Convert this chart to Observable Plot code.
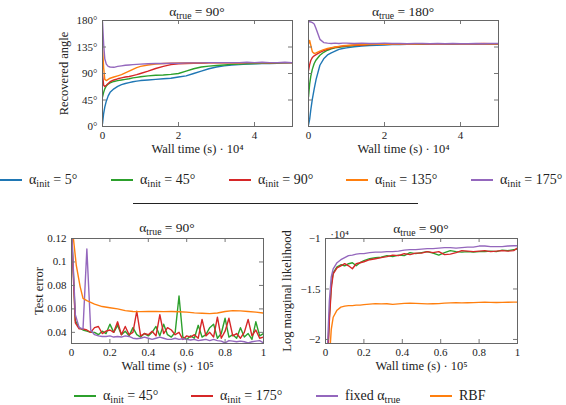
<!DOCTYPE html>
<html>
<head>
<meta charset="utf-8">
<script src="https://cdn.jsdelivr.net/npm/d3@7"></script>
<script src="https://cdn.jsdelivr.net/npm/@observablehq/plot@0.6"></script>
<style>
  body { margin: 0; background: #fff; }
  #fig { position: relative; width: 566px; height: 405px; overflow: hidden; font-family: "Liberation Serif", serif; color: #222; background: #fff; }
  #fig svg { position: absolute; left: 0; top: 0; }
  .ttl { position: absolute; font-size: 13.5px; line-height: 14px; white-space: nowrap; transform: translateX(-50%); }
  sub { font-size: 0.72em; vertical-align: -0.32em; line-height: 0; }
  .lg { position: absolute; font-size: 14px; line-height: 14px; white-space: nowrap; display: flex; align-items: center; }
  .lg i { display: inline-block; width: 22px; height: 1.6px; margin-right: 7px; }
  .rule { position: absolute; left: 133px; top: 202.5px; width: 285px; height: 1.5px; background: #222; }
</style>
</head>
<body>
<div id="fig"></div>
<script>
// ---- Recovered angle vs wall time (units of 1e4 s) ----
const tTop = [0, 0.03, 0.06, 0.1, 0.15, 0.2, 0.3, 0.4, 0.5, 0.6, 0.7, 0.8, 0.9, 1.0, 1.2, 1.4, 1.6, 1.8, 2.0, 2.2, 2.4, 2.6, 2.8, 3.0, 3.2, 3.4, 3.6, 3.8, 4.0, 4.2, 4.4, 4.6, 4.8, 5.0];

// alpha_true = 90°
const blue90   = [5, 22, 33, 43, 52, 58, 64, 68, 71, 73, 74.5, 76, 77, 78, 79, 80, 81, 82, 84, 86, 90, 94, 98, 101, 103, 104.5, 105, 106, 106.5, 107, 107, 107.5, 108, 108];
const green90  = [50, 58, 64, 69, 72, 74, 76.5, 78, 79, 80, 81, 82.5, 83.5, 84.5, 86, 87, 87.5, 88.5, 90, 94, 98, 101, 102.5, 103.5, 104.5, 105.5, 106, 106.5, 107, 107.5, 107.5, 108, 108, 108.5];
const red90    = [90, 70, 68, 70, 73, 76, 79, 81, 82.5, 84, 85, 86.5, 88, 90, 94, 98.5, 102, 105, 106.5, 107, 107.5, 107.5, 108, 108, 108, 108.5, 108, 108.5, 108.5, 108.5, 108, 108.5, 108.5, 108.5];
const orange90 = [135, 100, 80, 78, 80, 82, 84, 86, 88, 91, 94, 97, 100, 102, 104.5, 106, 107, 107.5, 108, 108, 108.5, 108, 108.5, 108.5, 108.5, 108.5, 108, 108.5, 108.5, 108.5, 108.5, 108.5, 108.5, 108.5];
const purple90 = [178, 140, 115, 106, 102, 101, 100.5, 102, 103, 104, 104.5, 105, 105.5, 106, 106.5, 107, 107, 107.5, 107.5, 108, 108, 108, 108.5, 108.5, 108.5, 108.5, 108.5, 109, 108.5, 109, 108.5, 108.5, 109, 108.5];

// alpha_true = 180°
const blue180   = [3, 12, 28, 46, 64, 80, 104, 115, 121.5, 125, 128, 131, 132.5, 133.5, 135.5, 136.5, 137.5, 138, 138.5, 139, 139, 139.5, 139.5, 140, 140, 140, 140.5, 140, 140.5, 140.5, 140, 140.5, 140.5, 140.5];
const green180  = [50, 72, 85, 97, 107, 113, 121, 126, 129.5, 132, 133.5, 134.5, 135.5, 136, 137.5, 138.5, 139, 139.5, 139.5, 140, 140, 140, 140.5, 140, 140.5, 140.5, 140.5, 140, 140.5, 140.5, 140.5, 140.5, 140.5, 140.5];
const red180    = [95, 105, 112, 117, 120, 122, 126, 129, 131, 133, 134.5, 135.5, 136.5, 137, 138, 138.5, 139, 139.5, 139.5, 140, 140, 140, 140.5, 140.5, 140, 140.5, 140.5, 140.5, 140.5, 140.5, 140.5, 141, 140.5, 140.5];
const orange180 = [140, 146, 138, 127, 124, 125, 128, 130.5, 132.5, 134, 135, 136, 137, 137.5, 138.5, 139, 139.5, 140, 139.5, 140, 140.5, 140, 140, 140.5, 140.5, 140, 140.5, 140.5, 140.5, 140.5, 140.5, 140.5, 140.5, 140.5];
const purple180 = [178, 178, 177.5, 176.5, 174, 166, 148, 142.5, 141.5, 141, 141.5, 141, 141.5, 141.5, 141, 141.5, 141, 141, 141.5, 141, 141, 140.5, 141, 141, 140.5, 141, 140.5, 141, 140.5, 140.5, 141, 140.5, 141, 141];

// ---- Test error vs wall time (units of 1e5 s) ----
const tErr = [0, 0.02, 0.04, 0.06, 0.08, 0.1, 0.12, 0.14, 0.16, 0.18, 0.2, 0.22, 0.24, 0.26, 0.28, 0.3, 0.32, 0.34, 0.36, 0.38, 0.4, 0.42, 0.44, 0.46, 0.48, 0.5, 0.52, 0.54, 0.56, 0.58, 0.6, 0.62, 0.64, 0.66, 0.68, 0.7, 0.72, 0.74, 0.76, 0.78, 0.8, 0.82, 0.84, 0.86, 0.88, 0.9, 0.92, 0.94, 0.96, 0.98, 1];
const greenErr  = [0.13, 0.05, 0.044, 0.042, 0.041, 0.040, 0.040, 0.038, 0.041, 0.039, 0.047, 0.040, 0.046, 0.038, 0.041, 0.037, 0.044, 0.038, 0.036, 0.039, 0.037, 0.040, 0.045, 0.037, 0.047, 0.038, 0.036, 0.040, 0.071, 0.036, 0.034, 0.037, 0.035, 0.046, 0.036, 0.038, 0.044, 0.047, 0.035, 0.039, 0.052, 0.036, 0.038, 0.035, 0.044, 0.036, 0.039, 0.034, 0.049, 0.037, 0.039];
const redErr    = [0.125, 0.048, 0.043, 0.043, 0.042, 0.040, 0.044, 0.045, 0.039, 0.041, 0.042, 0.040, 0.049, 0.038, 0.045, 0.038, 0.040, 0.058, 0.037, 0.039, 0.038, 0.041, 0.037, 0.055, 0.039, 0.044, 0.042, 0.038, 0.040, 0.034, 0.037, 0.036, 0.038, 0.035, 0.051, 0.037, 0.040, 0.036, 0.053, 0.035, 0.041, 0.052, 0.037, 0.039, 0.035, 0.040, 0.051, 0.037, 0.042, 0.035, 0.036];
const purpleErr = [0.13, 0.055, 0.044, 0.043, 0.111, 0.042, 0.038, 0.037, 0.0365, 0.0365, 0.037, 0.036, 0.0365, 0.036, 0.037, 0.0365, 0.035, 0.0345, 0.035, 0.036, 0.035, 0.034, 0.035, 0.036, 0.035, 0.034, 0.034, 0.035, 0.034, 0.0345, 0.034, 0.0335, 0.034, 0.033, 0.0335, 0.034, 0.033, 0.034, 0.033, 0.0325, 0.031, 0.033, 0.0325, 0.032, 0.0325, 0.032, 0.031, 0.032, 0.0325, 0.033, 0.031];
const tRbf   = [0, 0.01, 0.025, 0.045, 0.06, 0.08, 0.1, 0.12, 0.14, 0.16, 0.2, 0.24, 0.28, 0.32, 0.36, 0.4, 0.44, 0.48, 0.52, 0.56, 0.6, 0.64, 0.68, 0.72, 0.76, 0.8, 0.84, 0.88, 0.92, 0.96, 1];
const rbfErr = [0.15, 0.12, 0.097, 0.079, 0.069, 0.067, 0.0655, 0.064, 0.063, 0.062, 0.061, 0.060, 0.0585, 0.0578, 0.0577, 0.0578, 0.0578, 0.0577, 0.0578, 0.0576, 0.0572, 0.0566, 0.0563, 0.056, 0.0565, 0.0578, 0.0585, 0.0583, 0.0578, 0.0572, 0.0565];

// ---- Log marginal likelihood (units of 1e4) vs wall time (units of 1e5 s) ----
const tLik = [0, 0.01, 0.02, 0.03, 0.04, 0.06, 0.08, 0.10, 0.12, 0.14, 0.16, 0.18, 0.20, 0.23, 0.26, 0.29, 0.32, 0.35, 0.38, 0.41, 0.44, 0.47, 0.50, 0.53, 0.56, 0.59, 0.62, 0.65, 0.68, 0.71, 0.74, 0.77, 0.80, 0.83, 0.86, 0.89, 0.92, 0.95, 0.98, 1.0];
const purpleLik = [-2.3, -2.1, -1.62, -1.38, -1.3, -1.24, -1.21, -1.19, -1.17, -1.165, -1.155, -1.15, -1.15, -1.14, -1.135, -1.135, -1.13, -1.13, -1.125, -1.115, -1.11, -1.11, -1.105, -1.1, -1.1, -1.095, -1.09, -1.09, -1.095, -1.09, -1.085, -1.085, -1.075, -1.075, -1.08, -1.08, -1.08, -1.075, -1.072, -1.072];
const greenLik  = [-2.3, -2.2, -1.78, -1.46, -1.34, -1.28, -1.26, -1.27, -1.25, -1.24, -1.27, -1.24, -1.22, -1.2, -1.19, -1.185, -1.17, -1.18, -1.165, -1.17, -1.14, -1.15, -1.14, -1.13, -1.145, -1.165, -1.14, -1.12, -1.13, -1.135, -1.13, -1.135, -1.13, -1.13, -1.125, -1.13, -1.115, -1.12, -1.11, -1.105];
const redLik    = [-2.3, -2.25, -1.82, -1.5, -1.35, -1.29, -1.27, -1.25, -1.27, -1.30, -1.25, -1.24, -1.23, -1.21, -1.2, -1.19, -1.18, -1.165, -1.17, -1.15, -1.16, -1.145, -1.145, -1.13, -1.14, -1.13, -1.16, -1.155, -1.14, -1.12, -1.125, -1.13, -1.125, -1.12, -1.13, -1.125, -1.12, -1.125, -1.12, -1.095];
const rbfLik    = [-2.5, -2.4, -2.2, -1.9, -1.78, -1.71, -1.68, -1.67, -1.665, -1.665, -1.66, -1.66, -1.655, -1.65, -1.645, -1.648, -1.646, -1.652, -1.648, -1.643, -1.64, -1.643, -1.645, -1.648, -1.647, -1.645, -1.64, -1.638, -1.637, -1.638, -1.636, -1.635, -1.633, -1.632, -1.633, -1.634, -1.633, -1.632, -1.63, -1.63];

// ---- Tick values ----
const angleTicks = [0, 45, 90, 135, 180];
const topTimeTicks = [0, 2, 4];
const unitTicks = [0, 0.2, 0.4, 0.6, 0.8, 1];
const errTicks = [0.04, 0.06, 0.08, 0.1, 0.12];
const likTicks = [-2, -1.5, -1];

const C = {blue: "#1f77b4", green: "#2ca02c", red: "#d62728", orange: "#ff7f0e", purple: "#9467bd"};

const W = 566, H = 405, TICK = 4;
const fig = document.getElementById("fig");
const plain = d => (d < 0 ? "\u2212" : "") + Math.abs(d);
const deg = d => `${d}°`;

function panel({box, xDomain, yDomain, xTicks, yTicks, yFormat, showYLabels = true, xLabel, yLabel, yLabelDx, extra = [], series}) {
  const [left, top, right, bottom] = box;
  const fw = right - left, fh = bottom - top;
  const lines = series.map(([xs, ys, color]) =>
    Plot.line(xs.map((x, i) => ({x, y: ys[i]})), {x: "x", y: "y", stroke: color, strokeWidth: 1.4, clip: true}));
  const marks = [
    ...lines,
    Plot.tickX(xTicks, {x: d => d, stroke: "#777", insetTop: fh - TICK}),
    Plot.tickX(xTicks, {x: d => d, stroke: "#777", insetBottom: fh - TICK}),
    Plot.tickY(yTicks, {y: d => d, stroke: "#777", insetRight: fw - TICK}),
    Plot.tickY(yTicks, {y: d => d, stroke: "#777", insetLeft: fw - TICK}),
    Plot.frame({stroke: "#666", strokeWidth: 1}),
    Plot.axisX({ticks: xTicks, tickSize: 0, tickPadding: 5, tickFormat: plain, label: null, fontSize: 11}),
    Plot.text([xLabel], {text: d => d, frameAnchor: "bottom", textAnchor: "middle", dy: 26, fontSize: 12.5})
  ];
  if (showYLabels) {
    marks.push(Plot.axisY({ticks: yTicks, tickSize: 0, tickPadding: 5, tickFormat: yFormat, label: null, fontSize: 11}));
  }
  if (yLabel) {
    marks.push(Plot.text([yLabel], {text: d => d, frameAnchor: "left", textAnchor: "middle", dx: yLabelDx, rotate: -90, fontSize: 12.5}));
  }
  marks.push(...extra);
  const svg = Plot.plot({
    width: W, height: H,
    marginLeft: left, marginTop: top, marginRight: W - right, marginBottom: H - bottom,
    style: {background: "transparent", fontFamily: "Liberation Serif", fontSize: "11px", color: "#222", overflow: "visible"},
    x: {domain: xDomain, label: null},
    y: {domain: yDomain, label: null, axis: showYLabels ? undefined : null},
    marks
  });
  fig.appendChild(svg);
}

panel({
  box: [102, 20, 292, 126], xDomain: [0, 5], yDomain: [0, 180],
  xTicks: topTimeTicks, yTicks: angleTicks, yFormat: deg,
  xLabel: "Wall time (s) · 10⁴", yLabel: "Recovered angle", yLabelDx: -39,
  series: [[tTop, blue90, C.blue], [tTop, green90, C.green], [tTop, red90, C.red], [tTop, orange90, C.orange], [tTop, purple90, C.purple]]
});

panel({
  box: [308, 20, 498, 126], xDomain: [0, 5], yDomain: [0, 180],
  xTicks: topTimeTicks, yTicks: angleTicks, yFormat: deg, showYLabels: false,
  xLabel: "Wall time (s) · 10⁴",
  series: [[tTop, blue180, C.blue], [tTop, green180, C.green], [tTop, red180, C.red], [tTop, orange180, C.orange], [tTop, purple180, C.purple]]
});

panel({
  box: [71, 238, 263, 343], xDomain: [0, 1], yDomain: [0.0305, 0.12],
  xTicks: unitTicks, yTicks: errTicks, yFormat: plain,
  xLabel: "Wall time (s) · 10⁵", yLabel: "Test error", yLabelDx: -33,
  series: [[tErr, greenErr, C.green], [tErr, redErr, C.red], [tErr, purpleErr, C.purple], [tRbf, rbfErr, C.orange]]
});

panel({
  box: [325, 238, 517, 343], xDomain: [0, 1], yDomain: [-2.04, -1],
  xTicks: unitTicks, yTicks: likTicks, yFormat: plain,
  xLabel: "Wall time (s) · 10⁵", yLabel: "Log marginal likelihood", yLabelDx: -39,
  extra: [Plot.text(["·10⁴"], {text: d => d, frameAnchor: "top-left", textAnchor: "middle", dx: 14, dy: -8, fontSize: 11})],
  series: [[tLik, greenLik, C.green], [tLik, redLik, C.red], [tLik, purpleLik, C.purple], [tLik, rbfLik, C.orange]]
});

// Panel titles
const titles = [
  [197, 5, "α<sub>true</sub> = 90°"],
  [403, 5, "α<sub>true</sub> = 180°"],
  [167, 221, "α<sub>true</sub> = 90°"],
  [421, 222, "α<sub>true</sub> = 90°"]
];
for (const [cx, top, html] of titles) {
  const d = document.createElement("div");
  d.className = "ttl";
  d.style.left = cx + "px";
  d.style.top = top + "px";
  d.innerHTML = html;
  fig.appendChild(d);
}

// Legends
const legendTop = [
  [0, "α<sub>init</sub> = 5°", C.blue],
  [111, "α<sub>init</sub> = 45°", C.green],
  [229, "α<sub>init</sub> = 90°", C.red],
  [346, "α<sub>init</sub> = 135°", C.orange],
  [471, "α<sub>init</sub> = 175°", C.purple]
];
const legendBottom = [
  [74, "α<sub>init</sub> = 45°", C.green],
  [191, "α<sub>init</sub> = 175°", C.red],
  [316, "fixed α<sub>true</sub>", C.purple],
  [430, "RBF", C.orange]
];
function legend(items, cy) {
  for (const [x, html, color] of items) {
    const d = document.createElement("div");
    d.className = "lg";
    d.style.left = x + "px";
    d.style.top = (cy - 7) + "px";
    d.innerHTML = `<i style="background:${color}"></i><span>${html}</span>`;
    fig.appendChild(d);
  }
}
legend(legendTop, 180);
legend(legendBottom, 396);

const rule = document.createElement("div");
rule.className = "rule";
fig.appendChild(rule);
</script>
</body>
</html>
